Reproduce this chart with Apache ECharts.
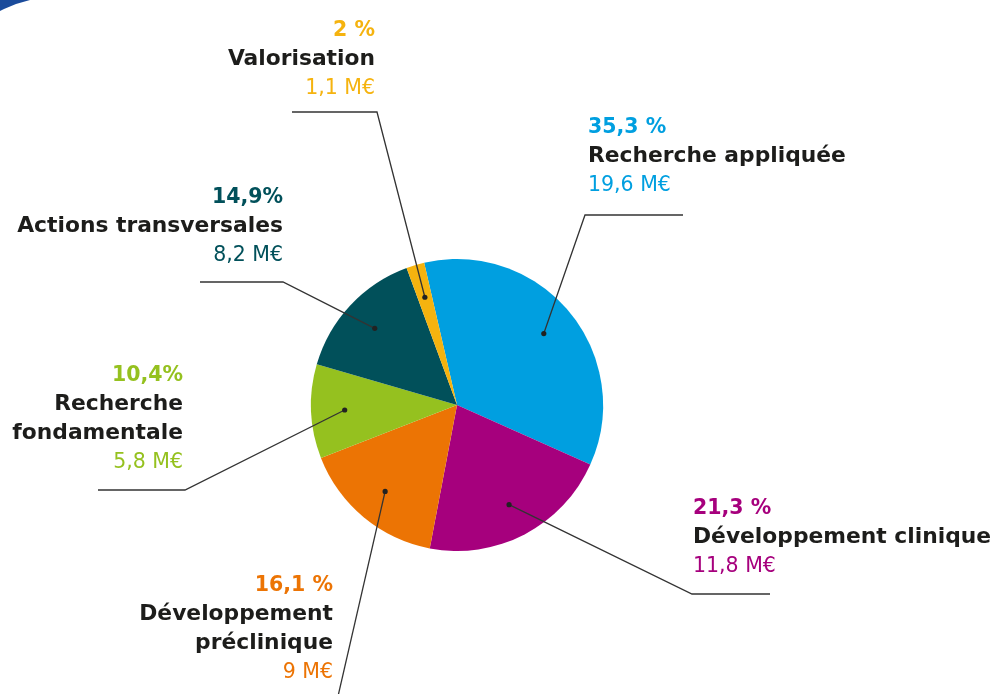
<!DOCTYPE html>
<html><head><meta charset="utf-8">
<script src="https://cdn.jsdelivr.net/npm/echarts@6/dist/echarts.min.js"></script>
<style>html,body{margin:0;padding:0;background:#fff}#c{width:997px;height:694px}</style>
</head><body><div id="c"></div>
<script>
// ---- data ----
const categories = ['Recherche appliquée','Développement clinique','Développement préclinique','Recherche fondamentale','Actions transversales','Valorisation'];
const shares = [35.3, 21.3, 16.1, 10.4, 14.9, 2];
const shareLabels = ['35,3 %','21,3 %','16,1 %','10,4%','14,9%','2 %'];
const amounts = [19.6, 11.8, 9, 5.8, 8.2, 1.1];
const amountUnit = 'M€';

// ---- styles / layout ----
const colors = ['#009fe0','#a6007d','#ec7404','#95c11f','#01505a','#f5b30f'];
const CX = 457, CY = 405, R = 146, START = 103;
const labelCfg = [
  {align:'left',  x:588, y:113, wrap:false, elbow:[585,215], end:[683,215]},
  {align:'left',  x:693, y:494, wrap:false, elbow:[692,594], end:[770,594]},
  {align:'right', x:333, y:571, wrap:true,  elbow:[336,705], end:[336,705]},
  {align:'right', x:183, y:361, wrap:true,  elbow:[185,490], end:[98,490]},
  {align:'right', x:283, y:183, wrap:false, elbow:[283,282], end:[200,282]},
  {align:'right', x:375, y:16,  wrap:false, elbow:[377,112], end:[292,112]}
];
const FONT = 'DejaVu Sans';
const FSP = 20.5, FSN = 21.8, FSV = 20.5, LH = 29;

const total = shares.reduce((a,b)=>a+b,0);
function midPoint(i, frac){
  let before = 0; for (let k=0;k<i;k++) before += shares[k];
  const ang = (START - (before + shares[i]/2)/total*360) * Math.PI/180;
  return [CX + frac*R*Math.cos(ang), CY - frac*R*Math.sin(ang)];
}
const fmt = v => String(v).replace('.', ',');

const data = categories.map((name,i)=>({
  name, value: shares[i],
  itemStyle:{color: colors[i]},
  label:{
    rich:{
      p:{fontFamily:FONT, fontSize:FSP, fontWeight:'bold', color:colors[i], lineHeight:LH, align:labelCfg[i].align},
      n:{fontFamily:FONT, fontSize:FSN, fontWeight:'bold', color:'#1d1d1b', lineHeight:LH, align:labelCfg[i].align},
      v:{fontFamily:FONT, fontSize:FSV, fontWeight:'normal', color:colors[i], lineHeight:LH, align:labelCfg[i].align}
    }
  }
}));

const chart = echarts.init(document.getElementById('c'), null, {renderer:'canvas'});
const guides = [];
categories.forEach((n,i)=>{
  const p = midPoint(i, 0.77);
  const c = labelCfg[i];
  guides.push({type:'polyline', shape:{points:[p, c.elbow, c.end]}, style:{stroke:'#333', lineWidth:1.3, fill:null}, z:100});
  guides.push({type:'circle', shape:{cx:p[0], cy:p[1], r:2.6}, style:{fill:'#222'}, z:101});
});
chart.setOption({
  backgroundColor:'#ffffff',
  animation:false,
  graphic:[
    {type:'polygon', shape:{points:[[0,0],[30,0],[16,4],[4,9],[0,11]]}, style:{fill:'#1a4b9b'}},
    ...guides
  ],
  series:[{
    type:'pie',
    center:[CX, CY],
    radius:R,
    startAngle:START,
    clockwise:true,
    avoidLabelOverlap:false,
    emphasis:{disabled:true},
    data,
    label:{
      show:true,
      position:'outside',
      width:420,
      formatter: p => {
        const i = p.dataIndex;
        const nm = labelCfg[i].wrap ? categories[i].replace(' ', '}\n{n|') : categories[i];
        return '{p|' + shareLabels[i] + '}\n{n|' + nm + '}\n{v|' + fmt(amounts[i]) + ' ' + amountUnit + '}';
      }
    },
    labelLine:{show:false},
    labelLayout: params => {
      const c = labelCfg[params.dataIndex];
      return { x: c.x, y: c.y, align: c.align, verticalAlign:'top' };
    }
  }]
});
</script></body></html>
